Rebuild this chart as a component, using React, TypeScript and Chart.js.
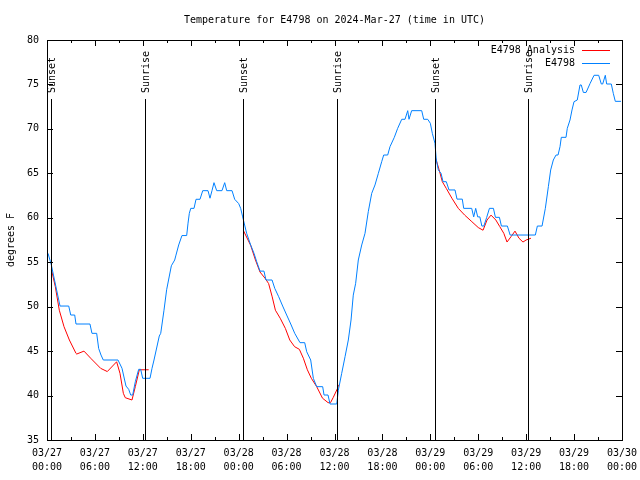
import { useEffect, useRef } from 'react';
import { Chart, registerables } from 'chart.js';

Chart.register(...registerables);

// ---- data (hours since 2024-03-27 00:00 UTC, temperature in °F) ----
const obsHours = [
  0.13, 0.54, 1.63, 2.72, 2.97, 3.47, 3.63, 5.38, 5.63, 6.22, 6.47, 6.76, 7.05, 8.89, 9.39, 9.89, 10.23, 10.48, 10.73, 11.06,
  11.48, 11.73, 11.98, 12.9, 13.15, 13.4, 14.06, 14.24, 14.65, 14.98, 15.57, 15.99, 16.15, 16.49, 16.9, 17.49, 17.66, 17.82, 18.0, 18.41,
  18.66, 19.16, 19.5, 20.16, 20.41, 20.66, 20.91, 21.25, 21.91, 22.25, 22.5, 23.17, 23.5, 24.0, 24.25, 24.5, 25.0, 25.5, 25.92, 26.26,
  26.67, 27.17, 27.42, 28.18, 28.52, 29.01, 29.51, 30.01, 30.52, 31.02, 31.68, 32.27, 32.52, 33.02, 33.35, 33.77, 34.52, 34.69, 35.19, 35.44,
  36.28, 36.48, 36.9, 37.32, 37.73, 38.07, 38.35, 38.65, 38.98, 39.41, 39.82, 40.23, 40.66, 41.07, 41.49, 41.91, 42.16, 42.66, 42.95, 43.49,
  43.91, 44.42, 44.83, 45.17, 45.33, 45.66, 46.92, 47.17, 47.67, 48.0, 48.25, 48.58, 48.75, 49.0, 49.34, 49.59, 50.0, 50.34, 51.09, 51.34,
  52.0, 52.18, 53.18, 53.43, 53.68, 53.93, 54.2, 54.45, 54.7, 55.06, 55.4, 55.9, 56.15, 56.65, 56.9, 57.65, 57.99, 61.15, 61.4, 61.99,
  62.4, 62.78, 63.07, 63.4, 63.74, 63.99, 64.24, 64.4, 64.99, 65.15, 65.49, 65.74, 65.99, 66.4, 66.74, 66.9, 67.16, 67.5, 68.0, 68.5,
  69.08, 69.41, 69.58, 69.91, 70.08, 70.66, 70.91, 71.16, 71.87,
];
const obsTemps = [
  56.0, 54.7, 50.07, 50.07, 49.06, 49.06, 48.05, 48.05, 47.0, 47.0, 45.3, 44.56, 44.0, 44.0, 43.07, 41.07, 40.7, 40.06, 40.06, 41.56,
  42.95, 42.95, 41.94, 41.94, 43.07, 44.0, 46.7, 47.0, 49.6, 51.9, 54.6, 55.25, 55.8, 56.94, 58.0, 58.0, 59.4, 60.5, 61.06, 61.06,
  62.08, 62.08, 63.05, 63.05, 62.2, 63.05, 63.95, 63.05, 63.05, 63.95, 63.05, 63.05, 62.08, 61.6, 61.06, 60.1, 58.25, 56.94, 56.0, 55.06,
  54.0, 54.0, 53.0, 53.0, 52.06, 51.12, 50.07, 49.06, 48.05, 47.0, 45.95, 45.95, 44.93, 44.0, 41.94, 41.0, 41.0, 40.06, 40.06, 39.05,
  39.05, 40.6, 42.5, 44.37, 46.25, 48.5, 51.3, 52.63, 55.25, 56.94, 58.25, 60.69, 62.75, 63.69, 65.0, 66.31, 67.06, 67.06, 68.0, 69.05,
  70.06, 71.08, 71.08, 72.05, 71.08, 72.05, 72.05, 71.08, 71.08, 70.63, 69.5, 68.38, 66.5, 65.38, 65.0, 64.06, 64.06, 63.13, 63.13, 62.1,
  62.1, 61.06, 61.06, 60.1, 61.06, 60.1, 60.1, 59.07, 59.07, 60.05, 61.06, 61.06, 60.05, 60.05, 59.07, 59.07, 58.06, 58.06, 59.07, 59.07,
  61.06, 63.5, 65.38, 66.5, 67.06, 67.06, 68.0, 69.05, 69.05, 70.06, 71.0, 72.13, 73.06, 73.25, 74.94, 74.94, 74.1, 74.1, 75.1, 76.03,
  76.03, 75.05, 75.05, 76.03, 75.05, 75.05, 74.0, 73.1, 73.1,
];

const ana1Hours = [0.55, 1.04, 1.54, 2.13, 2.8, 3.63, 3.72, 4.63, 5.47, 6.72, 7.55, 8.72, 9.14, 9.56, 9.8, 10.64, 11.06, 11.56, 12.73];
const ana1Temps = [54.2, 52.25, 49.6, 47.75, 46.25, 44.75, 44.67, 45.0, 44.2, 43.06, 42.7, 43.8, 42.5, 40.25, 39.76, 39.5, 41.0, 42.9, 42.9];

const ana2Hours = [24.6, 25.5, 26.1, 26.67, 27.3, 27.75, 28.2, 28.6, 29.2, 29.85, 30.4, 31.0, 31.6, 32.1, 32.6, 33.1, 33.77, 34.5, 35.2, 35.5, 35.85, 36.4, 36.5];
const ana2Temps = [58.55, 56.9, 55.25, 53.9, 53.2, 52.6, 51.1, 49.6, 48.7, 47.55, 46.25, 45.5, 45.2, 44.2, 42.9, 41.94, 41.0, 39.7, 39.2, 39.2, 39.8, 40.85, 41.2];

const ana3Hours = [48.67, 49.1, 49.5, 50.0, 50.7, 51.5, 52.3, 53.2, 54.0, 54.6, 55.1, 55.6, 56.2, 56.7, 57.2, 57.6, 58.1, 58.6, 59.1, 59.6, 60.0, 60.6];
const ana3Temps = [66.7, 65.4, 64.06, 63.3, 62.2, 61.06, 60.3, 59.56, 58.9, 58.6, 59.75, 60.3, 59.75, 59.0, 58.25, 57.27, 57.87, 58.5, 57.7, 57.27, 57.5, 57.7];

const xTickHours = [0, 6, 12, 18, 24, 30, 36, 42, 48, 54, 60, 66, 72];
const xTickDates = ['03/27', '03/27', '03/27', '03/27', '03/28', '03/28', '03/28', '03/28', '03/29', '03/29', '03/29', '03/29', '03/30'];
const xTickTimes = ['00:00', '06:00', '12:00', '18:00', '00:00', '06:00', '12:00', '18:00', '00:00', '06:00', '12:00', '18:00', '00:00'];

const sunHours = [0.54, 12.3, 24.58, 36.33, 48.58, 60.27];
const sunLabels = ['Sunset', 'Sunrise', 'Sunset', 'Sunrise', 'Sunset', 'Sunrise'];

const titleText = 'Temperature for E4798 on 2024-Mar-27 (time in UTC)';
const yTitleText = 'degrees F';
const seriesNames = ['E4798 Analysis', 'E4798'];
const seriesColors = ['#ff0000', '#0080ff'];

const FONT = '10px "DejaVu Sans Mono", "Liberation Mono", monospace';

const toPoints = (hs: number[], ts: number[]) => hs.map((h, i) => ({ x: h, y: ts[i] }));

const framePlugin = {
  id: 'gnuplotFrame',
  afterDraw(chart: any) {
    const { ctx, chartArea } = chart;
    const { left, right, top, bottom } = chartArea;
    const xs = chart.scales.x;
    const ys = chart.scales.y;
    ctx.save();
    ctx.strokeStyle = '#000';
    ctx.lineWidth = 1;
    // sun lines
    ctx.beginPath();
    sunHours.forEach((h) => {
      const px = Math.round(xs.getPixelForValue(h)) + 0.5;
      ctx.moveTo(px, 99);
      ctx.lineTo(px, bottom);
    });
    ctx.stroke();
    // border
    ctx.strokeRect(Math.round(left) + 0.5, Math.round(top) + 0.5, Math.round(right - left), Math.round(bottom - top));
    // x ticks (major each 6h, minor each 3h)
    ctx.beginPath();
    for (let h = 0; h <= 72; h += 3) {
      const px = Math.round(xs.getPixelForValue(h)) + 0.5;
      const len = h % 6 === 0 ? 6 : 3;
      ctx.moveTo(px, bottom);
      ctx.lineTo(px, bottom - len);
      ctx.moveTo(px, top);
      ctx.lineTo(px, top + len);
    }
    for (let v = 35; v <= 80; v += 5) {
      const py = Math.round(ys.getPixelForValue(v)) + 0.5;
      ctx.moveTo(left, py);
      ctx.lineTo(left + 6, py);
      ctx.moveTo(right, py);
      ctx.lineTo(right - 6, py);
    }
    ctx.stroke();

    ctx.fillStyle = '#000';
    ctx.font = FONT;
    // sun labels
    sunHours.forEach((h, i) => {
      const px = Math.round(xs.getPixelForValue(h)) + 1;
      ctx.save();
      ctx.translate(px, 93);
      ctx.rotate(-Math.PI / 2);
      ctx.textAlign = 'left';
      ctx.textBaseline = 'middle';
      ctx.fillText(sunLabels[i], 0, 0);
      ctx.restore();
    });
    // title
    ctx.textAlign = 'center';
    ctx.textBaseline = 'middle';
    ctx.fillText(titleText, (left + right) / 2, 20);
    // y title
    ctx.save();
    ctx.translate(11, (top + bottom) / 2);
    ctx.rotate(-Math.PI / 2);
    ctx.fillText(yTitleText, 0, 0);
    ctx.restore();
    // legend
    ctx.textAlign = 'right';
    seriesNames.forEach((name, i) => {
      const ly = 50 + i * 13;
      ctx.fillText(name, 575, ly);
      ctx.strokeStyle = seriesColors[i];
      ctx.beginPath();
      ctx.moveTo(582, ly + 0.5);
      ctx.lineTo(610, ly + 0.5);
      ctx.stroke();
    });
    ctx.restore();
  },
};

export default function App() {
  const ref = useRef<HTMLCanvasElement | null>(null);
  useEffect(() => {
    if (!ref.current) return;
    const lineDs = (label: string, data: any[], color: string) => ({
      label,
      data,
      borderColor: color,
      backgroundColor: color,
      borderWidth: 1,
      pointRadius: 0,
      tension: 0,
      fill: false,
    });
    const chart = new Chart(ref.current, {
      type: 'line',
      data: {
        datasets: [
          lineDs(seriesNames[1], toPoints(obsHours, obsTemps), seriesColors[1]),
          lineDs(seriesNames[0], toPoints(ana1Hours, ana1Temps), seriesColors[0]),
          lineDs(seriesNames[0], toPoints(ana2Hours, ana2Temps), seriesColors[0]),
          lineDs(seriesNames[0], toPoints(ana3Hours, ana3Temps), seriesColors[0]),
        ],
      },
      options: {
        animation: false,
        responsive: false,
        devicePixelRatio: 1,
        layout: { padding: { left: 0, right: 18, top: 40, bottom: 0 } },
        plugins: { legend: { display: false }, title: { display: false }, tooltip: { enabled: false } },
        scales: {
          x: {
            type: 'linear',
            min: 0,
            max: 72,
            afterFit: (s: any) => { s.height = 40; s.paddingLeft = 0; s.paddingRight = 0; },
            afterBuildTicks: (s: any) => { s.ticks = xTickHours.map((v) => ({ value: v })); },
            grid: { display: false, drawTicks: false },
            border: { display: false },
            ticks: {
              autoSkip: false,
              maxRotation: 0,
              minRotation: 0,
              padding: 6,
              color: '#000',
              font: { family: '"DejaVu Sans Mono", "Liberation Mono", monospace', size: 10, lineHeight: 1.4 },
              callback: (v: any) => {
                const i = xTickHours.indexOf(Number(v));
                return i >= 0 ? [xTickDates[i], xTickTimes[i]] : '';
              },
            },
          },
          y: {
            type: 'linear',
            min: 35,
            max: 80,
            afterFit: (s: any) => { s.width = 47; s.paddingTop = 0; s.paddingBottom = 0; },
            grid: { display: false, drawTicks: false },
            border: { display: false },
            ticks: {
              stepSize: 5,
              padding: 8,
              color: '#000',
              font: { family: '"DejaVu Sans Mono", "Liberation Mono", monospace', size: 10 },
            },
          },
        },
      },
      plugins: [framePlugin],
    } as any);
    return () => chart.destroy();
  }, []);
  return (
    <div style={{ position: 'fixed', left: 0, top: 0, width: 640, height: 480, background: '#fff' }}>
      <canvas ref={ref} width={640} height={480} style={{ display: 'block' }} />
    </div>
  );
}
